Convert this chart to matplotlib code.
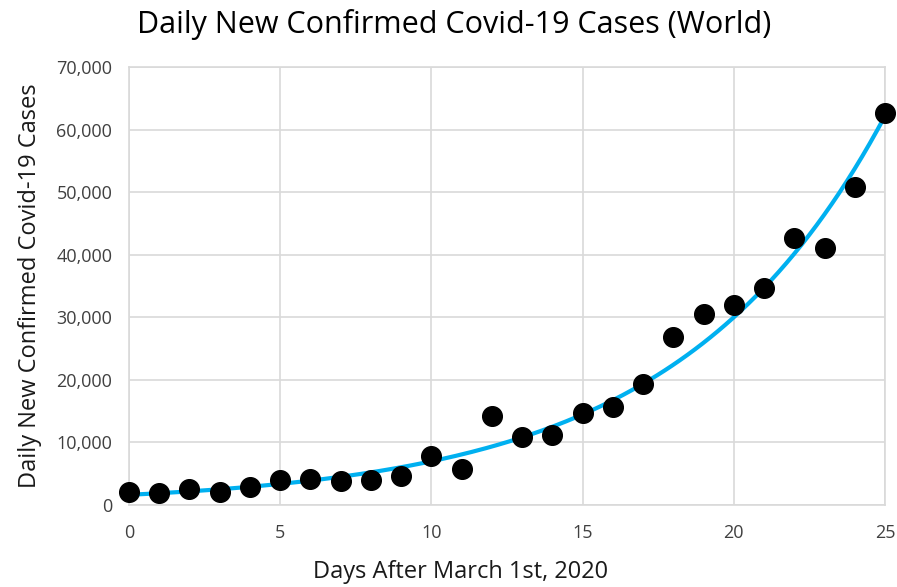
import matplotlib.pyplot as plt
import numpy as np
from matplotlib.ticker import FuncFormatter

# daily new cases
days = np.arange(0, 26)
cases = [2100, 1900, 2500, 2000, 2800, 4000, 4100, 3800, 4000, 4700,
         7800, 5700, 14300, 10900, 11200, 14700, 15700, 19300, 26900, 30600,
         31900, 34600, 42600, 41000, 50800, 62700]

xticks = [0, 5, 10, 15, 20, 25]
yticks = [0, 10000, 20000, 30000, 40000, 50000, 60000, 70000]

plt.rcParams['font.family'] = ['Open Sans', 'DejaVu Sans']

# exponential trendline (log-linear fit like Excel)
b, a = np.polyfit(days, np.log(cases), 1)
xs = np.linspace(0, 25, 200)
trend = np.exp(a) * np.exp(b * xs)

fig = plt.figure(figsize=(8.97, 5.87), dpi=100)
ax = fig.add_axes([0.1438, 0.1397, 0.8428, 0.7462])

ax.plot(xs, trend, color='#00B0F0', lw=3, zorder=2)
ax.scatter(days, cases, s=200, color='black', zorder=3, clip_on=False)

ax.set_xlim(0, 25)
ax.set_ylim(0, 70000)
ax.set_xticks(xticks)
ax.set_yticks(yticks)
ax.yaxis.set_major_formatter(FuncFormatter(lambda v, p: f'{int(v):,}'))
ax.grid(True, color='#D9D9D9', lw=1.2)
ax.set_axisbelow(True)
for s in ax.spines.values():
    s.set_color('#D9D9D9')
    s.set_linewidth(1.2)
ax.tick_params(length=0, labelsize=13, colors='#404040', pad=12)
ax.tick_params(axis='x', pad=14)

# title centred on the figure, not the axes
fig.suptitle('Daily New Confirmed Covid-19 Cases (World)', fontsize=22,
             x=0.506, y=0.985, va='top')
ax.set_xlabel('Days After March 1st, 2020', fontsize=17, color='#1a1a1a')
ax.xaxis.set_label_coords(0.439, -0.125)
ax.set_ylabel('Daily New Confirmed Covid-19 Cases', fontsize=17, labelpad=10, color='#1a1a1a')

fig.savefig('out.png', dpi=100)
